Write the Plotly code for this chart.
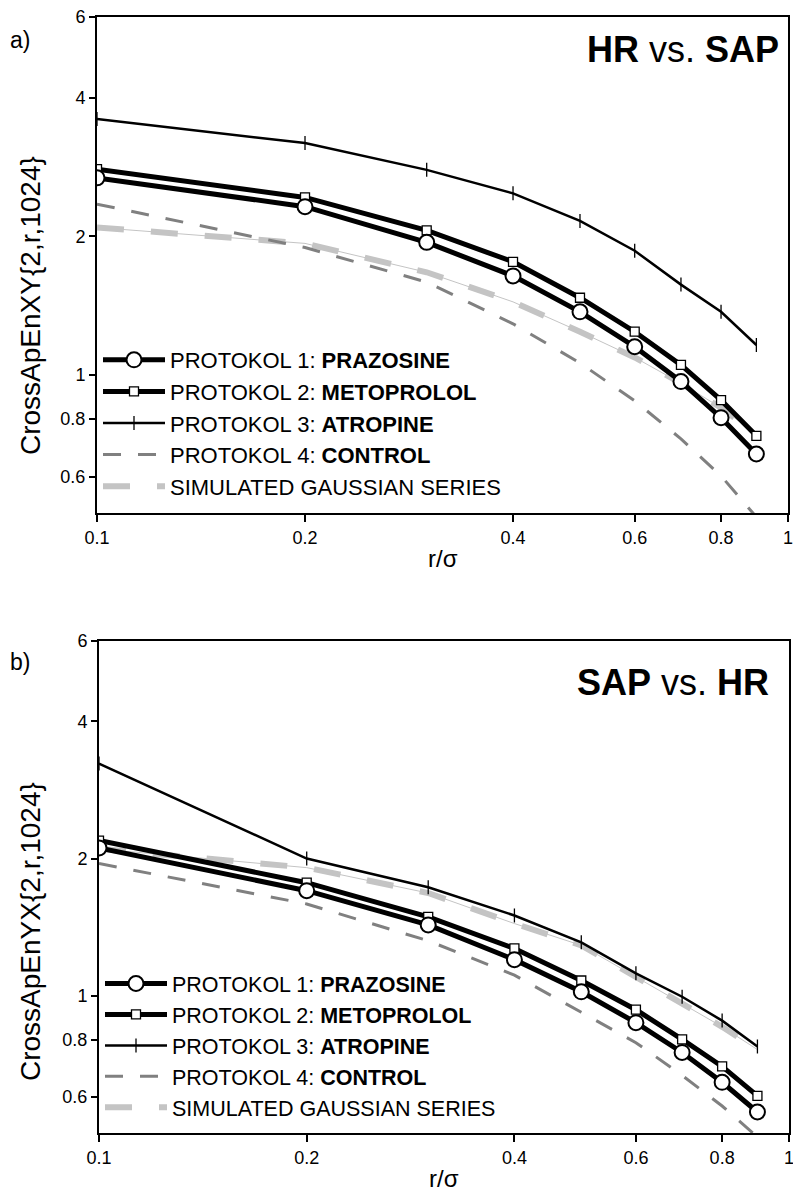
import plotly.graph_objects as go

r = [0.1, 0.2, 0.3, 0.4, 0.5, 0.6, 0.7, 0.8, 0.9]

# Panel a: HR vs. SAP
a_prazosine = [2.68, 2.32, 1.94, 1.64, 1.37, 1.15, 0.966, 0.806, 0.672]
a_metoprolol = [2.80, 2.43, 2.06, 1.76, 1.47, 1.24, 1.05, 0.88, 0.736]
a_atropine = [3.60, 3.19, 2.79, 2.48, 2.16, 1.86, 1.57, 1.37, 1.16]
a_control = [2.35, 1.89, 1.59, 1.29, 1.06, 0.877, 0.725, 0.602, 0.49]
a_gauss = [2.09, 1.93, 1.67, 1.44, 1.24, 1.09, 0.958, 0.847, 0.743]

# Panel b: SAP vs. HR
b_prazosine = [2.11, 1.70, 1.43, 1.20, 1.02, 0.873, 0.751, 0.646, 0.556]
b_metoprolol = [2.19, 1.77, 1.49, 1.27, 1.08, 0.932, 0.802, 0.700, 0.603]
b_atropine = [3.23, 2.00, 1.73, 1.50, 1.31, 1.12, 0.995, 0.882, 0.774]
b_control = [1.95, 1.59, 1.32, 1.11, 0.92, 0.789, 0.669, 0.573, 0.49]
b_gauss = [2.10, 1.91, 1.68, 1.44, 1.29, 1.10, 0.96, 0.855, 0.762]

names = ["PROTOKOL 1: <b>PRAZOSINE</b>", "PROTOKOL 2: <b>METOPROLOL</b>",
         "PROTOKOL 3: <b>ATROPINE</b>", "PROTOKOL 4: <b>CONTROL</b>",
         "SIMULATED GAUSSIAN SERIES"]

xticks = [0.1, 0.2, 0.4, 0.6, 0.8, 1]
xticktext = ["0.1", "0.2", "0.4", "0.6", "0.8", "1"]
yticks = [0.6, 0.8, 1, 2, 4, 6]
yticktext = ["0.6", "0.8", "1", "2", "4", "6"]

FONT = "Liberation Sans, Arial, sans-serif"
fig = go.Figure()


def add_panel(xa, ya, leg, praz, meto, atro, ctrl, gauss):
    # gaussian thin solid line (no legend)
    fig.add_trace(go.Scatter(x=r, y=gauss, xaxis=xa, yaxis=ya, mode="lines",
                             line=dict(color="#c4c4c4", width=1), showlegend=False,
                             hoverinfo="skip"))
    fig.add_trace(go.Scatter(x=r, y=gauss, xaxis=xa, yaxis=ya, mode="lines",
                             name=names[4], legend=leg, legendrank=5,
                             line=dict(color="#c4c4c4", width=6, dash="27px,27px")))
    fig.add_trace(go.Scatter(x=r, y=ctrl, xaxis=xa, yaxis=ya, mode="lines",
                             name=names[3], legend=leg, legendrank=4,
                             line=dict(color="#808080", width=3, dash="18px,17px")))
    fig.add_trace(go.Scatter(x=r, y=atro, xaxis=xa, yaxis=ya, mode="lines+markers",
                             name=names[2], legend=leg, legendrank=3,
                             line=dict(color="black", width=2.5),
                             marker=dict(symbol="line-ns", size=10, color="black",
                                         line=dict(color="black", width=1.3))))
    fig.add_trace(go.Scatter(x=r, y=meto, xaxis=xa, yaxis=ya, mode="lines+markers",
                             name=names[1], legend=leg, legendrank=2,
                             line=dict(color="black", width=5),
                             marker=dict(symbol="square", size=9, color="white",
                                         line=dict(color="black", width=1.3))))
    fig.add_trace(go.Scatter(x=r, y=praz, xaxis=xa, yaxis=ya, mode="lines+markers",
                             name=names[0], legend=leg, legendrank=1,
                             line=dict(color="black", width=5),
                             marker=dict(symbol="circle", size=15, color="white",
                                         line=dict(color="black", width=2))))


add_panel("x", "y", "legend", a_prazosine, a_metoprolol, a_atropine, a_control, a_gauss)
add_panel("x2", "y2", "legend2", b_prazosine, b_metoprolol, b_atropine, b_control, b_gauss)

W, H = 793, 1194


def px_x(p):
    return p / W


def px_y(p):
    return 1 - p / H


axis_common = dict(type="log", showline=True, linecolor="black", linewidth=2,
                   mirror=True, ticks="outside", tickcolor="black", tickwidth=1.5,
                   showgrid=False, zeroline=False, automargin=False,
                   ticklabeloverflow="allow",
                   tickfont=dict(family=FONT, size=18, color="black"))

xa_common = dict(axis_common, range=[-1, 0], tickvals=xticks, ticktext=xticktext, ticklen=7)
ya_common = dict(axis_common, range=[-0.30103, 0.778151], tickvals=yticks,
                 ticktext=yticktext, ticklen=6)

leg_common = dict(itemwidth=62,
                  bgcolor="rgba(0,0,0,0)", borderwidth=0, xanchor="left",
                  yanchor="top", traceorder="normal", tracegroupgap=0,
                  itemsizing="trace")

fig.update_layout(
    width=W, height=H, margin=dict(l=0, r=0, t=0, b=0, autoexpand=False),
    paper_bgcolor="white", plot_bgcolor="white",
    xaxis=dict(xa_common, domain=[px_x(97), px_x(788)], anchor="y"),
    yaxis=dict(ya_common, domain=[px_y(513), px_y(17)], anchor="x"),
    xaxis2=dict(xa_common, domain=[px_x(99), px_x(789)], anchor="y2"),
    yaxis2=dict(ya_common, domain=[px_y(1133), px_y(641)], anchor="x2"),
    legend=dict(leg_common, x=px_x(98), y=px_y(339),
                font=dict(family=FONT, size=22, color="black")),
    legend2=dict(leg_common, x=px_x(100), y=px_y(963),
                 font=dict(family=FONT, size=21.5, color="black")),
    showlegend=True,
)

ann = []


def add_text(text, x, y, size, angle=0, xanchor="center", yanchor="middle"):
    ann.append(dict(text=text, x=px_x(x), y=px_y(y), xref="paper", yref="paper",
                    showarrow=False, textangle=angle, xanchor=xanchor, yanchor=yanchor,
                    font=dict(family=FONT, size=size, color="black")))


add_text("a)", 8, 40, 23, xanchor="left")
add_text("b)", 8, 662, 23, xanchor="left")
add_text("CrossApEnXY{2,r,1024}", 30, 306, 28, angle=-90)
add_text("CrossApEnYX{2,r,1024}", 30, 932, 28, angle=-90)
add_text("r/&#963;", 443, 558, 24)
add_text("r/&#963;", 444, 1178, 24)
add_text("<b>HR</b> vs. <b>SAP</b>", 781, 50, 36, xanchor="right")
add_text("<b>SAP</b> vs. <b>HR</b>", 771, 682, 36, xanchor="right")
fig.update_layout(annotations=ann)

fig.write_html("out.html")
